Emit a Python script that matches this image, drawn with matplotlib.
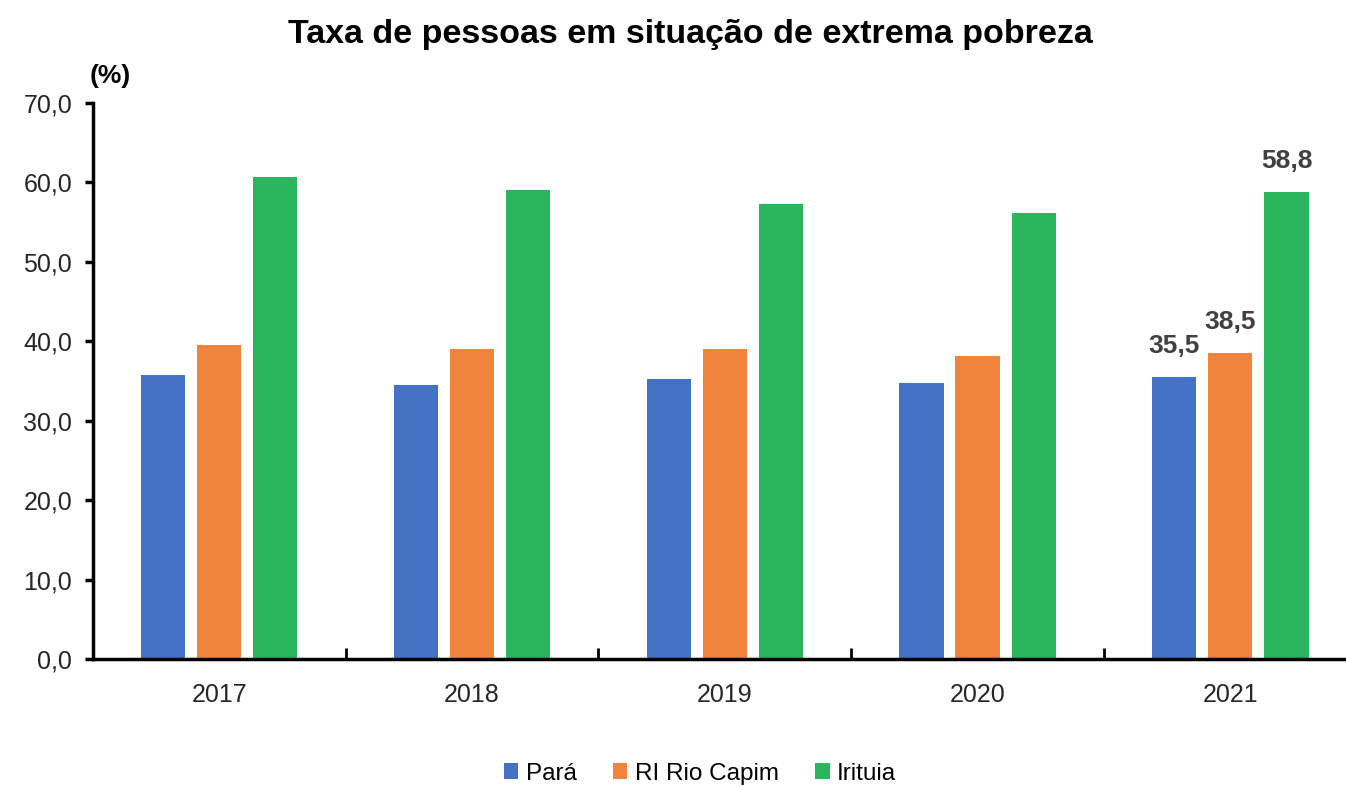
import matplotlib
matplotlib.use("Agg")
import matplotlib.pyplot as plt
import numpy as np

years = ["2017", "2018", "2019", "2020", "2021"]
series_names = ["Pará", "RI Rio Capim", "Irituia"]
para = [35.7, 34.5, 35.2, 34.8, 35.5]
ri_rio_capim = [39.5, 39.0, 39.0, 38.1, 38.5]
irituia = [60.7, 59.0, 57.3, 56.2, 58.8]
colors = ["#4472C4", "#F0843D", "#2BB55C"]
yticks = [0, 10, 20, 30, 40, 50, 60, 70]

plt.rcParams['font.family'] = ['Liberation Sans Narrow', 'Liberation Sans', 'DejaVu Sans']

fig = plt.figure(figsize=(13.46, 7.87), dpi=100)
ax = fig.add_axes([0.069, 0.1626, 0.939, 0.7065])

x = np.arange(len(years))
w = 0.175
pitch = 0.222
series = [para, ri_rio_capim, irituia]
for i, (vals, name, c) in enumerate(zip(series, series_names, colors)):
    bars = ax.bar(x + (i - 1) * pitch, vals, width=w, color=c, label=name, zorder=2)
    last = bars[-1]
    ax.text(last.get_x() + last.get_width() / 2, vals[-1] + 2.4,
            f"{vals[-1]:.1f}".replace(".", ","), ha="center", va="bottom",
            fontsize=19, fontweight="bold", color="#404040")

ax.set_xlim(-0.5, len(years) - 0.5)
ax.set_ylim(0, 70)
ax.set_yticks(yticks)
ax.set_yticklabels([f"{v:.1f}".replace(".", ",") for v in yticks], fontsize=18, color="#262626")
ax.set_xticks(x)
ax.set_xticklabels(years, fontsize=18, color="#262626")
ax.tick_params(axis="x", length=0, pad=17)
ax.tick_params(axis="y", direction="out", length=6, width=2.5, pad=9)
ax.set_xticks(np.arange(len(years) + 1) - 0.5, minor=True)
ax.tick_params(axis="x", which="minor", direction="in", length=8, width=2)

for s in ["top", "right"]:
    ax.spines[s].set_visible(False)
ax.spines["left"].set_linewidth(2.5)
ax.spines["bottom"].set_linewidth(2.5)

fig.text(0.513, 0.956, "Taxa de pessoas em situação de extrema pobreza", ha="center", va="center",
         fontsize=24.5, fontweight="bold", color="#000000")
fig.text(0.082, 0.903, "(%)", ha="center", va="center", fontsize=19, fontweight="bold", color="#000000")

fig.legend(loc="center", bbox_to_anchor=(0.52, 0.017), ncol=3, frameon=False, fontsize=17.5,
           handlelength=0.6, handleheight=0.6, handletextpad=0.3, columnspacing=1.5)

fig.savefig("out.png", dpi=100)
